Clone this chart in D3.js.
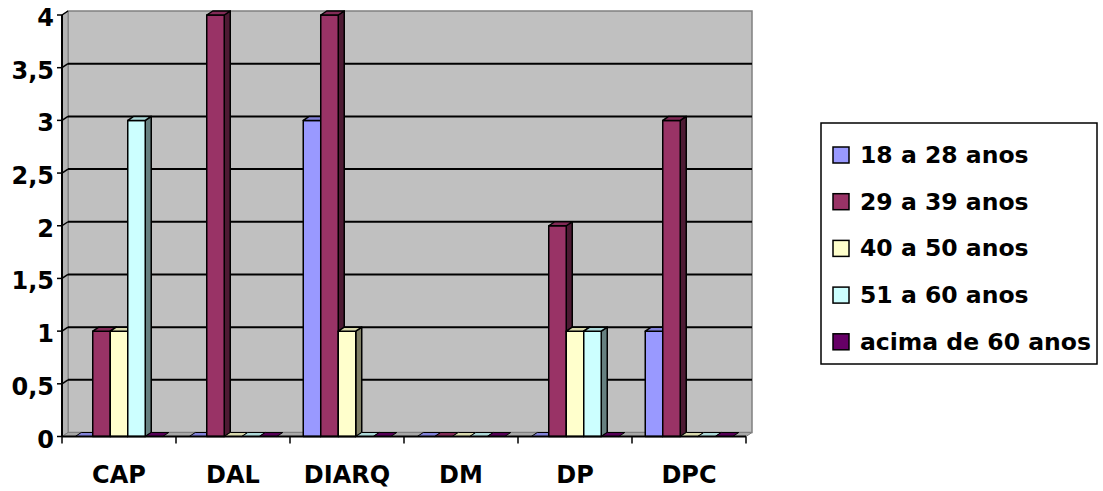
<!DOCTYPE html>
<html>
<head>
<meta charset="utf-8">
<script src="https://cdn.jsdelivr.net/npm/d3@7"></script>
<style>
  html, body { margin: 0; padding: 0; background: #ffffff; }
  svg { display: block; }
  text { font-family: "DejaVu Sans", Verdana, sans-serif; font-weight: bold; fill: #000; }
</style>
</head>
<body>
<svg id="chart" width="1103" height="491"></svg>
<script>
// Departments along the horizontal axis
const categories = ["CAP", "DAL", "DIARQ", "DM", "DP", "DPC"];

// Age bands (legend order)
const seriesNames = ["18 a 28 anos", "29 a 39 anos", "40 a 50 anos", "51 a 60 anos", "acima de 60 anos"];
const seriesColors = ["#9999FF", "#993366", "#FFFFCC", "#CCFFFF", "#660066"];

// Counts per age band, one value per department
const age18to28 = [0, 0, 3, 0, 0, 1];
const age29to39 = [1, 4, 4, 0, 2, 3];
const age40to50 = [1, 0, 1, 0, 1, 0];
const age51to60 = [3, 0, 0, 0, 1, 0];
const ageOver60 = [0, 0, 0, 0, 0, 0];
const seriesValues = [age18to28, age29to39, age40to50, age51to60, ageOver60];

// Y axis tick values and their labels (comma decimal)
const yTicks = [0, 0.5, 1, 1.5, 2, 2.5, 3, 3.5, 4];
const yTickLabels = ["0", "0,5", "1", "1,5", "2", "2,5", "3", "3,5", "4"];

(function () {
const svg = d3.select("#chart");
const FONT = 24;
const LEGEND_FONT = 23.5;

// Front plane of the 3D box and its depth offset
const plotLeft = 62, plotRight = 746, plotBottom = 436.5, plotTop = 15;
const DX = 6, DY = 4;

const y = d3.scaleLinear().domain([0, 4]).range([plotBottom, plotTop]);
const x0 = d3.scaleBand().domain(categories).range([plotLeft, plotRight]).padding(0);
const x1 = d3.scaleBand().domain(d3.range(seriesNames.length))
  .range([0, x0.bandwidth()]).paddingInner(0).paddingOuter(0.757);

const pts = a => a.map(p => p.join(",")).join(" ");

// Back wall
svg.append("rect")
  .attr("x", plotLeft + DX).attr("y", y(4) - DY)
  .attr("width", plotRight - plotLeft).attr("height", y(0) - y(4))
  .attr("fill", "#C0C0C0").attr("stroke", "#808080").attr("stroke-width", 1.5);

// Left side wall
svg.append("polygon")
  .attr("points", pts([[plotLeft, y(0)], [plotLeft, y(4)], [plotLeft + DX, y(4) - DY], [plotLeft + DX, y(0) - DY]]))
  .attr("fill", "#B4B4B4").attr("stroke", "#808080").attr("stroke-width", 1);

// Floor
svg.append("polygon")
  .attr("points", pts([[plotLeft, y(0)], [plotRight, y(0)], [plotRight + DX, y(0) - DY], [plotLeft + DX, y(0) - DY]]))
  .attr("fill", "#A8A8A8").attr("stroke", "#808080").attr("stroke-width", 1);

// Gridlines on back wall, continuing across the side wall
const grid = svg.append("g");
yTicks.filter(v => v > 0 && v < 4).forEach(v => {
  grid.append("line")
    .attr("x1", plotLeft + DX).attr("x2", plotRight + DX)
    .attr("y1", y(v) - DY).attr("y2", y(v) - DY)
    .attr("stroke", "#000").attr("stroke-width", 2);
  grid.append("line")
    .attr("x1", plotLeft).attr("x2", plotLeft + DX)
    .attr("y1", y(v)).attr("y2", y(v) - DY)
    .attr("stroke", "#000").attr("stroke-width", 1.5);
});
grid.append("line")
  .attr("x1", plotLeft).attr("x2", plotLeft + DX)
  .attr("y1", y(4)).attr("y2", y(4) - DY)
  .attr("stroke", "#000").attr("stroke-width", 1.5);

// Bars: front face, top face and right side face
const shade = (c, k) => { const h = d3.rgb(c); return d3.rgb(h.r * k, h.g * k, h.b * k).toString(); };
const bars = svg.append("g");
categories.forEach((cat, ci) => {
  seriesValues.forEach((vals, si) => {
    const v = vals[ci];
    const xa = x0(cat) + x1(si);
    const xb = xa + x1.bandwidth();
    const yt = y(v), yb = y(0);
    const col = seriesColors[si];
    const g = bars.append("g").attr("stroke", "#000").attr("stroke-width", 1.5).attr("stroke-linejoin", "round");
    if (v > 0) {
      g.append("polygon")
        .attr("points", pts([[xb, yb], [xb, yt], [xb + DX, yt - DY], [xb + DX, yb - DY]]))
        .attr("fill", shade(col, 0.5));
      g.append("rect")
        .attr("x", xa).attr("y", yt).attr("width", xb - xa).attr("height", yb - yt)
        .attr("fill", col);
    }
    g.append("polygon")
      .attr("points", pts([[xa, yt], [xb, yt], [xb + DX, yt - DY], [xa + DX, yt - DY]]))
      .attr("fill", shade(col, 0.85))
      .attr("stroke-width", v > 0 ? 1.5 : 1);
  });
});

// Y axis line, ticks and labels
svg.append("line")
  .attr("x1", plotLeft).attr("x2", plotLeft).attr("y1", y(0)).attr("y2", y(4))
  .attr("stroke", "#000").attr("stroke-width", 2);
const yAxisG = svg.append("g");
yTicks.forEach((v, i) => {
  yAxisG.append("line")
    .attr("x1", plotLeft - 5).attr("x2", plotLeft).attr("y1", y(v)).attr("y2", y(v))
    .attr("stroke", "#000").attr("stroke-width", 1.5);
  yAxisG.append("text")
    .attr("x", plotLeft - 8).attr("y", y(v) + 11)
    .attr("text-anchor", "end").attr("font-size", FONT)
    .text(yTickLabels[i]);
});

// X axis line, ticks and labels
svg.append("line")
  .attr("x1", plotLeft).attr("x2", plotRight).attr("y1", y(0)).attr("y2", y(0))
  .attr("stroke", "#000").attr("stroke-width", 2);
const xTickPos = categories.map(c => x0(c)).concat([plotRight]);
xTickPos.forEach(px => {
  svg.append("line")
    .attr("x1", px).attr("x2", px).attr("y1", y(0)).attr("y2", y(0) + 7)
    .attr("stroke", "#000").attr("stroke-width", 1.5);
});
categories.forEach(c => {
  svg.append("text")
    .attr("x", x0(c) + x0.bandwidth() / 2).attr("y", 483)
    .attr("text-anchor", "middle").attr("font-size", FONT)
    .text(c);
});

// Legend
const legend = svg.append("g");
legend.append("rect")
  .attr("x", 821).attr("y", 123).attr("width", 276).attr("height", 241)
  .attr("fill", "#fff").attr("stroke", "#000").attr("stroke-width", 1.5);
seriesNames.forEach((name, i) => {
  const base = 163 + i * 46.7;
  legend.append("rect")
    .attr("x", 833).attr("y", base - 16).attr("width", 16).attr("height", 16)
    .attr("fill", seriesColors[i]).attr("stroke", "#000").attr("stroke-width", 1.5);
  legend.append("text")
    .attr("x", 860).attr("y", base).attr("font-size", LEGEND_FONT)
    .text(name);
});
})();
</script>
</body>
</html>
